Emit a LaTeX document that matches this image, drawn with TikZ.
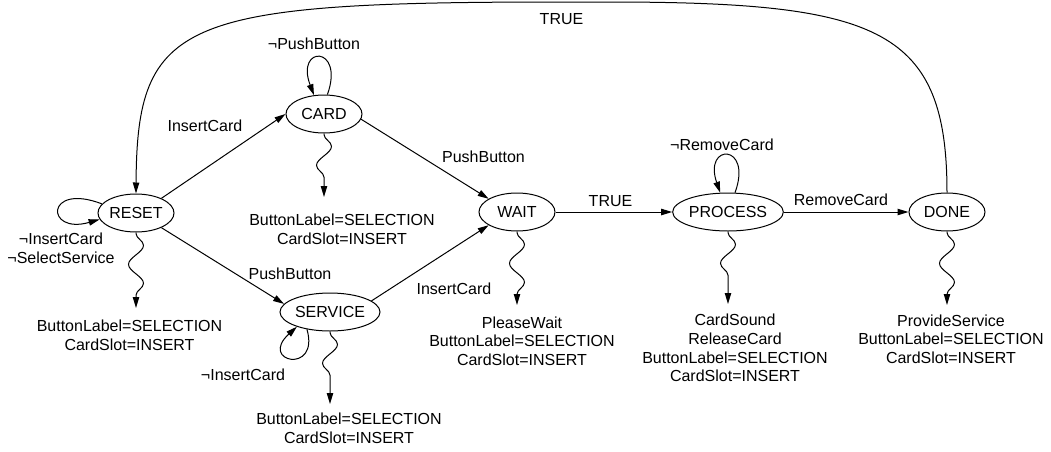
\documentclass[tikz,border=0pt]{standalone}
\usepackage{fontspec}
\setmainfont{Liberation Sans}
\usetikzlibrary{arrows.meta,shapes.geometric,decorations.pathmorphing}
\begin{document}
\begin{tikzpicture}[x=0.5pt,y=-0.5pt,
  font=\fontsize{8}{9.3}\selectfont,
  line width=0.5pt,
  >={Triangle[length=5.5pt,width=3.2pt]},
  state/.style={draw, ellipse, inner sep=0pt, minimum width=38pt, minimum height=19pt},
  widestate/.style={state, minimum width=50pt},
  trans/.style={->},
  output/.style={->, decorate, decoration={snake, amplitude=3.75pt, segment length=19pt, pre length=0.5pt, post length=5pt}},
  lbl/.style={inner sep=0pt},
  outtext/.style={align=center, inner sep=0pt}]

\fill[white] (0,0) rectangle (1051,451);
\useasboundingbox (0,0) rectangle (1051,451);

% states
\node[state]     (RESET)   at (136,213) {RESET};
\node[state]     (CARD)    at (324,114) {CARD};
\node[widestate] (SERVICE) at (330,312) {SERVICE};
\node[state]     (WAIT)    at (517,212) {WAIT};
\node[widestate] (PROCESS) at (728,212) {PROCESS};
\node[state]     (DONE)    at (947,212) {DONE};

% transitions
\draw[trans] (RESET.30) -- (CARD.west);
\draw[trans] (CARD.-8) -- (WAIT.155);
\draw[trans] (RESET.-30) -- (SERVICE.170);
\draw[trans] (SERVICE.15) -- (WAIT.205);
\draw[trans] (WAIT) -- (PROCESS);
\draw[trans] (PROCESS) -- (DONE);
\draw[trans] (DONE.north) .. controls (947,30) and (880,3) .. (620,2)
  -- (560,2) .. controls (180,2) and (137,20) .. (RESET.north);

% self loops
\draw[trans] (RESET.165) .. controls (45,182) and (45,235) .. (RESET.190);
\draw[trans] (CARD.80) .. controls (345,45) and (295,45) .. (CARD.118);
\draw[trans] (PROCESS.70) .. controls (753,143) and (703,143) .. (PROCESS.112);
\draw[trans] (SERVICE.-143) .. controls (320,375) and (258,362) .. (SERVICE.-156);

% transition labels
\node[lbl] (tTop)  at (561.5,19) {TRUE};
\node[lbl] (tRC)   at (205,126) {InsertCard};
\node[lbl] (tCC)   at (314,44) {¬PushButton};
\node[lbl] (tCW)   at (483.5,157) {PushButton};
\node[lbl] (tRS)   at (290,274) {PushButton};
\node[lbl] (tSW)   at (454,289) {InsertCard};
\node[lbl] (tWP)   at (610.5,201) {TRUE};
\node[lbl] (tPD)   at (841,200) {RemoveCard};
\node[lbl] (tPP)   at (722,145) {¬RemoveCard};
\node[lbl] (tSS)   at (243,375) {¬InsertCard};
\node[outtext] (tRR) at (61,248) {¬InsertCard\\¬SelectService};

% outputs
\coordinate (oR) at (136,308);
\coordinate (oC) at (324,197);
\coordinate (oS) at (330,404);
\coordinate (oW) at (517,305);
\coordinate (oP) at (728,304);
\coordinate (oD) at (947,305);
\draw[output] (RESET.south) -- (oR);
\draw[output] (CARD.south) -- (oC);
\draw[output] (SERVICE.south) -- (oS);
\draw[output] (WAIT.south) -- (oW);
\draw[output] (PROCESS.south) -- (oP);
\draw[output] (DONE.south) -- (oD);

\node[outtext] (xR) at (129.5,335) {ButtonLabel=SELECTION\\CardSlot=INSERT};
\node[outtext] (xC) at (342,229) {ButtonLabel=SELECTION\\CardSlot=INSERT};
\node[outtext] (xS) at (349,428.5) {ButtonLabel=SELECTION\\CardSlot=INSERT};
\node[outtext] (xW) at (522,341) {PleaseWait\\ButtonLabel=SELECTION\\CardSlot=INSERT};
\node[outtext] (xP) at (735,348) {CardSound\\ReleaseCard\\ButtonLabel=SELECTION\\CardSlot=INSERT};
\node[outtext] (xD) at (951,339) {ProvideService\\ButtonLabel=SELECTION\\CardSlot=INSERT};
\end{tikzpicture}
\end{document}
